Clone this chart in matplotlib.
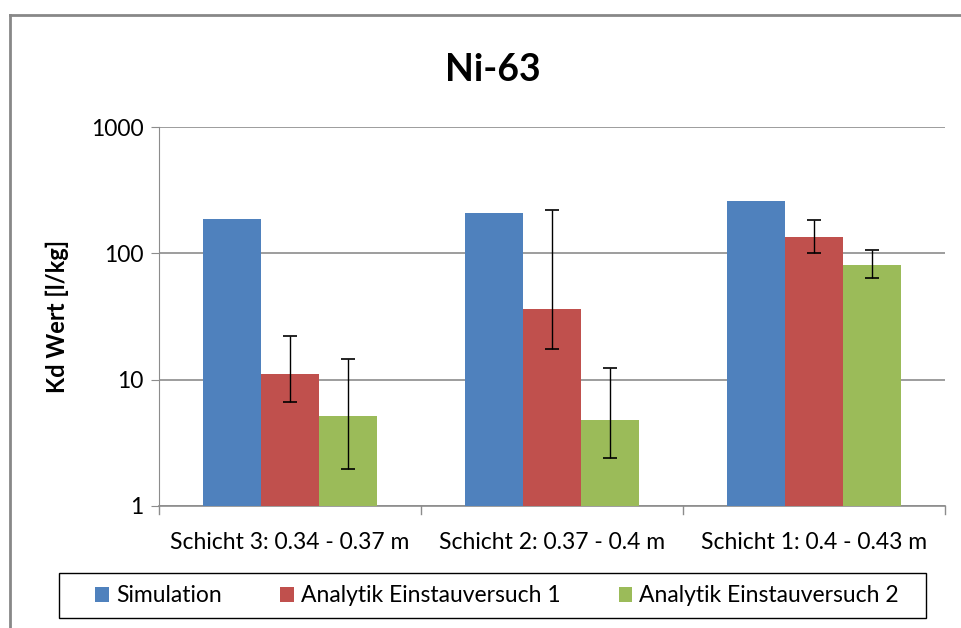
import matplotlib
matplotlib.use("Agg")
import matplotlib.pyplot as plt
import numpy as np
from matplotlib.lines import Line2D
from matplotlib.patches import Rectangle

plt.rcParams['font.family'] = ['Lato', 'DejaVu Sans']

categories = ["Schicht 3: 0.34 - 0.37 m", "Schicht 2: 0.37 - 0.4 m", "Schicht 1: 0.4 - 0.43 m"]
series_names = ["Simulation", "Analytik Einstauversuch 1", "Analytik Einstauversuch 2"]
simulation = [187, 209, 260]
analytik1 = [11.1, 36.4, 135]
analytik1_low = [6.7, 17.6, 101]
analytik1_high = [22.1, 220, 182]
analytik2 = [5.15, 4.8, 80.7]
analytik2_low = [1.96, 2.41, 63.3]
analytik2_high = [14.6, 12.4, 106]
yticks = [1, 10, 100, 1000]
ytick_labels = ["1", "10", "100", "1000"]

colors = ["#4F81BD", "#C0504D", "#9BBB59"]

fig = plt.figure(figsize=(9.61, 6.28), dpi=100)
ax = fig.add_axes([159/961, 1-506/628, (945-159)/961, (506-127)/628])

x = np.arange(len(categories))
w = 0.222
values = [simulation, analytik1, analytik2]
errs = [None,
        (np.array(analytik1) - np.array(analytik1_low), np.array(analytik1_high) - np.array(analytik1)),
        (np.array(analytik2) - np.array(analytik2_low), np.array(analytik2_high) - np.array(analytik2))]
for i, (vals, c, name) in enumerate(zip(values, colors, series_names)):
    pos = x + (i - 1) * w
    ax.bar(pos, vals, width=w, color=c, label=name, zorder=3)
    if errs[i] is not None:
        ax.errorbar(pos, vals, yerr=np.vstack(errs[i]), fmt='none', ecolor='black',
                    elinewidth=1, capsize=5, capthick=1.2, zorder=4)

ax.set_yscale('log')
ax.set_ylim(1, 1000)
ax.set_xlim(-0.5, 2.5)
ax.set_yticks(yticks)
ax.set_yticklabels(ytick_labels)
ax.minorticks_off()
ax.yaxis.grid(True, color='#8C8C8C', linewidth=1.2, zorder=0)
ax.set_xticks(x)
ax.set_xticklabels(categories, fontsize=16.5)
ax.tick_params(axis='x', length=0, pad=19)
ax.tick_params(axis='y', labelsize=16.5, length=6, color='#8C8C8C', pad=5)
for b in [-0.5, 0.5, 1.5, 2.5]:
    ax.plot([b, b], [1, 0.87], color='#8C8C8C', linewidth=1, clip_on=False, zorder=5)
for s in ['top', 'right']:
    ax.spines[s].set_visible(False)
ax.spines['left'].set_color('#8C8C8C')
ax.spines['bottom'].set_color('#8C8C8C')
ax.spines['bottom'].set_linewidth(1.2)

ax.set_ylabel("Kd Wert [l/kg]", fontsize=17, fontweight='bold', labelpad=16)
fig.text(493/961, 1-70/628, "Ni-63", ha='center', va='center', fontsize=27, fontweight='bold')

leg = fig.legend(loc='center', bbox_to_anchor=(497/961, 1-596/628), ncol=3, fontsize=16.5,
                 frameon=False, handlelength=0.6,
                 handleheight=0.6, handletextpad=0.3, columnspacing=2.55,
                 borderpad=0.3, borderaxespad=0)

fig.add_artist(Rectangle((59/961, 1-618/628), 867/961, 45/628, transform=fig.transFigure,
                         fill=False, edgecolor='black', linewidth=1.0))
fig.add_artist(Line2D([10/961, 10/961], [0, 1-15/628], color='#888888', linewidth=2, transform=fig.transFigure))
fig.add_artist(Line2D([10/961, 1], [1-15/628, 1-15/628], color='#888888', linewidth=2, transform=fig.transFigure))

fig.savefig("out.png", dpi=100)
